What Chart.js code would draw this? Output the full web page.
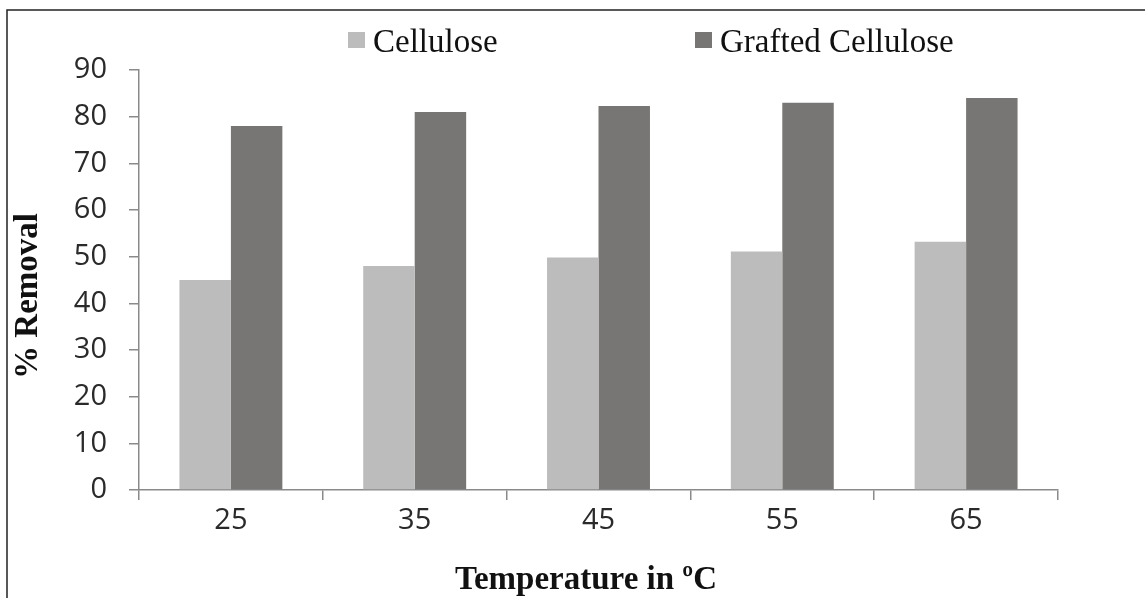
<!DOCTYPE html>
<html>
<head>
<meta charset="utf-8">
<script src="https://cdn.jsdelivr.net/npm/chart.js@4/dist/chart.umd.min.js"></script>
<style>
html,body{margin:0;padding:0;background:#fff;}
#wrap{position:relative;width:1145px;height:598px;}
</style>
</head>
<body>
<div id="wrap"><canvas id="c" width="1145" height="598"></canvas></div>
<script>
const categories = ['25', '35', '45', '55', '65'];
const cellulose = [45, 48, 49.8, 51.1, 53.2];
const grafted = [78, 81, 82.3, 83, 84];
const seriesNames = ['Cellulose', 'Grafted Cellulose'];
const yTicks = [0, 10, 20, 30, 40, 50, 60, 70, 80, 90];
const xTitle = 'Temperature in \u00BAC';
const yTitle = '% Removal';

const colCell = '#bdbcbc';
const colGraft = '#787674';

const decor = {
  id: 'decor',
  afterDraw(chart) {
    const ctx = chart.ctx;
    ctx.save();
    // frame lines
    ctx.strokeStyle = '#222';
    ctx.lineWidth = 1.5;
    ctx.beginPath();
    ctx.moveTo(7, 598);
    ctx.lineTo(7, 10);
    ctx.lineTo(1145, 10);
    ctx.stroke();
    // legend
    ctx.font = '33px "Liberation Serif", "Times New Roman", serif';
    ctx.textBaseline = 'alphabetic';
    ctx.textAlign = 'left';
    const items = [
      {x: 348, color: colCell, label: seriesNames[0]},
      {x: 695, color: colGraft, label: seriesNames[1]}
    ];
    items.forEach(it => {
      ctx.fillStyle = it.color;
      ctx.fillRect(it.x, 32, 17, 16);
      ctx.fillStyle = '#111';
      ctx.fillText(it.label, it.x + 25, 52);
    });
    // x title
    ctx.font = 'bold 33px "Liberation Serif", "Times New Roman", serif';
    ctx.textAlign = 'center';
    ctx.fillStyle = '#111';
    ctx.fillText(xTitle, 586, 589);
    // y title
    ctx.translate(37, 296);
    ctx.rotate(-Math.PI / 2);
    ctx.textAlign = 'center';
    ctx.fillText(yTitle, 0, 0);
    ctx.restore();
  }
};

new Chart(document.getElementById('c'), {
  type: 'bar',
  data: {
    labels: categories,
    datasets: [
      {label: seriesNames[0], data: cellulose, backgroundColor: colCell, borderWidth: 0},
      {label: seriesNames[1], data: grafted, backgroundColor: colGraft, borderWidth: 0}
    ]
  },
  options: {
    responsive: false,
    animation: false,
    devicePixelRatio: 1,
    layout: {padding: {left: 0, right: 87, top: 70, bottom: 0}},
    datasets: {bar: {categoryPercentage: 0.56, barPercentage: 1.0}},
    plugins: {legend: {display: false}, tooltip: {enabled: false}, title: {display: false}},
    scales: {
      x: {
        afterFit(s) { s.height = 108; },
        grid: {display: true, drawOnChartArea: false, offset: true, tickLength: 10, color: '#8a8a8a', lineWidth: 1.5},
        border: {display: true, color: '#8a8a8a', width: 1.5},
        ticks: {color: '#2a2a2a', padding: 3, font: {family: '"Open Sans", sans-serif', size: 29}}
      },
      y: {
        min: 0, max: 90,
        afterFit(s) { s.width = 139; },
        afterBuildTicks(s) { s.ticks = yTicks.map(v => ({value: v})); },
        grid: {display: true, drawOnChartArea: false, tickLength: 10, color: '#8a8a8a', lineWidth: 1.5},
        border: {display: true, color: '#8a8a8a', width: 1.5},
        ticks: {color: '#2a2a2a', padding: 22, font: {family: '"Open Sans", sans-serif', size: 29}}
      }
    }
  },
  plugins: [decor]
});
</script>
</body>
</html>
